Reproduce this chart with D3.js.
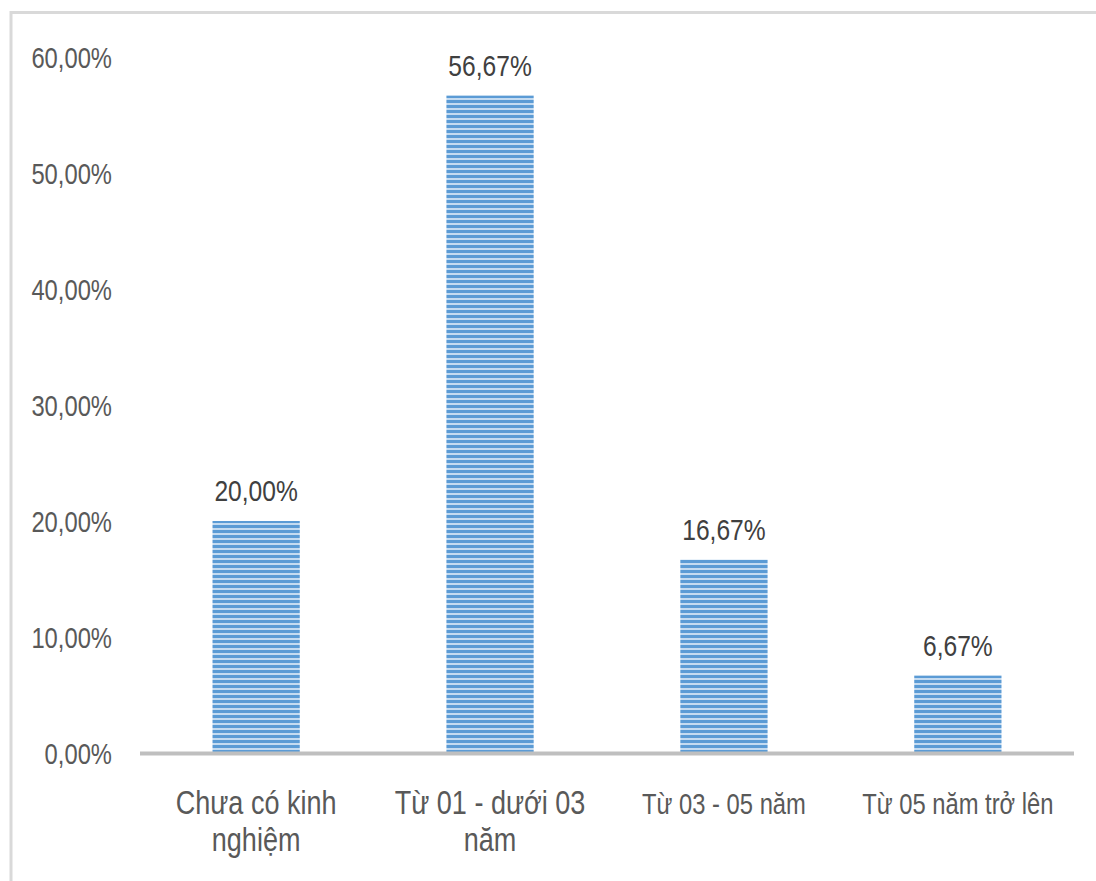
<!DOCTYPE html>
<html>
<head>
<meta charset="utf-8">
<script src="https://cdn.jsdelivr.net/npm/d3@7"></script>
<style>
  body { margin: 0; background: #fff; }
  text { font-family: "Liberation Sans", Arial, sans-serif; fill: #595959; }
</style>
</head>
<body>
<svg id="chart"></svg>
<script>
const width = 1096;
const height = 881;

// data
const categories = [
  ["Chưa có kinh", "nghiệm"],
  ["Từ 01 - dưới 03", "năm"],
  ["Từ 03 - 05 năm"],
  ["Từ 05 năm trở lên"]
];
const values = [20.00, 56.67, 16.67, 6.67];
const valueLabels = ["20,00%", "56,67%", "16,67%", "6,67%"];
const yTicks = [0, 10, 20, 30, 40, 50, 60];
const yTickLabels = ["0,00%", "10,00%", "20,00%", "30,00%", "40,00%", "50,00%", "60,00%"];

const narrow = 0.82; // squeeze text horizontally, like Arial Narrow

const svg = d3.select("#chart")
  .attr("width", width)
  .attr("height", height);

// frame (only top and left edges visible)
svg.append("path")
  .attr("d", `M11,${height} L11,12.5 L${width},12.5`)
  .attr("fill", "none")
  .attr("stroke", "#d9d9d9")
  .attr("stroke-width", 3);

// stripe pattern for the bars
const defs = svg.append("defs");
const pat = defs.append("pattern")
  .attr("id", "stripes")
  .attr("patternUnits", "userSpaceOnUse")
  .attr("width", 8)
  .attr("height", 5);
pat.append("rect").attr("width", 8).attr("height", 5).attr("fill", "#c4dbf1");
pat.append("rect").attr("y", 0).attr("width", 8).attr("height", 3).attr("fill", "#5b9bd5");

const x = d3.scaleBand()
  .domain(d3.range(categories.length))
  .range([140, 1074])
  .paddingInner(0.627)
  .paddingOuter(0.31);

const y = d3.scaleLinear()
  .domain([0, 60])
  .range([753, 57]);

// y tick labels
svg.append("g")
  .selectAll("text")
  .data(yTicks)
  .enter()
  .append("text")
  .attr("transform", d => `translate(112,${y(d) + 11}) scale(${narrow},1)`)
  .attr("text-anchor", "end")
  .attr("font-size", "29px")
  .text((d, i) => yTickLabels[i]);

// bars
svg.append("g")
  .selectAll("rect")
  .data(values)
  .enter()
  .append("rect")
  .attr("x", (d, i) => x(i))
  .attr("y", d => y(d))
  .attr("width", x.bandwidth())
  .attr("height", d => y(0) - y(d))
  .attr("fill", "url(#stripes)");

// value labels
svg.append("g")
  .selectAll("text")
  .data(values)
  .enter()
  .append("text")
  .attr("transform", (d, i) => `translate(${x(i) + x.bandwidth() / 2},${y(d) - 20}) scale(${narrow},1)`)
  .attr("text-anchor", "middle")
  .attr("font-size", "30px")
  .style("fill", "#404040")
  .text((d, i) => valueLabels[i]);

// x axis line
svg.append("line")
  .attr("x1", 140)
  .attr("x2", 1074)
  .attr("y1", y(0) + 0.5)
  .attr("y2", y(0) + 0.5)
  .attr("stroke", "#bfbfbf")
  .attr("stroke-width", 4);

// category labels (wrapped ones are set a bit larger, as in the original)
const cat = svg.append("g")
  .selectAll("text")
  .data(categories)
  .enter()
  .append("text")
  .attr("text-anchor", "middle")
  .attr("font-size", d => d.length > 1 ? "33px" : "29px")
  .attr("transform", (d, i) => `translate(${x(i) + x.bandwidth() / 2},814) scale(${narrow},1)`);

cat.selectAll("tspan")
  .data(d => d)
  .enter()
  .append("tspan")
  .attr("x", 0)
  .attr("dy", (d, i) => i === 0 ? 0 : 37)
  .text(d => d);
</script>
</body>
</html>
